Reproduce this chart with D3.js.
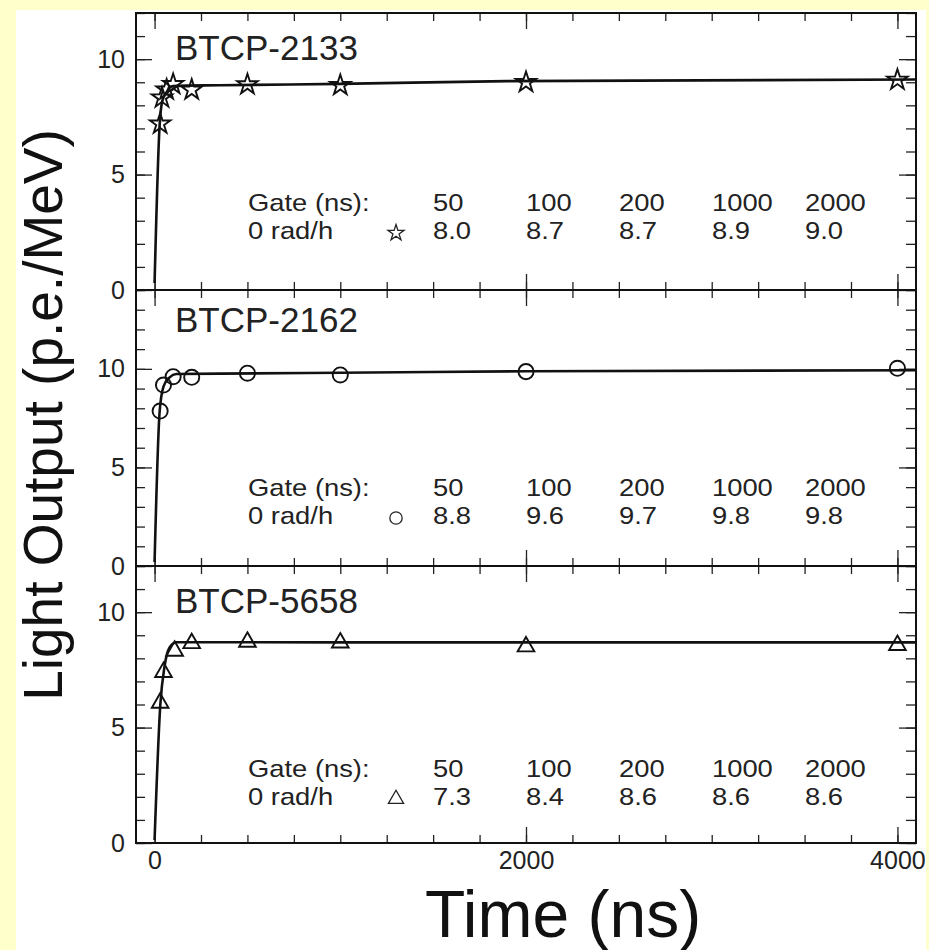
<!DOCTYPE html>
<html>
<head>
  <meta charset="utf-8">
  <title>Light Output vs Time</title>
  <script src="https://d3js.org/d3.v7.min.js"></script>
  <style>
    body {
      margin: 0;
      background: #ffffcc;
      font-family: "Liberation Sans", Arial, sans-serif;
    }
    .axis path.domain {
      display: none;
    }
    .axis line {
      stroke: #222;
      stroke-width: 1.3;
    }
    .axis text {
      font-family: "Liberation Sans", Arial, sans-serif;
      font-size: 25px;
      fill: #222;
    }
  </style>
</head>
<body>
  <svg width="929" height="950"></svg>
  <script>
    // crystal names and y ranges
    var crystals = ["BTCP-2133", "BTCP-2162", "BTCP-5658"];
    var yMax = [12, 14, 12];
    var markerTypes = ["star", "circle", "triangle"];

    // measured points (time in ns, p.e./MeV)
    var times2133 = [30, 40, 65, 100, 200, 500, 1000, 2000, 4000];
    var light2133 = [7.2, 8.33, 8.67, 8.91, 8.67, 8.9, 8.87, 9.0, 9.1];
    var times2162 = [30, 48, 100, 200, 500, 1000, 2000, 4000];
    var light2162 = [7.86, 9.18, 9.6, 9.57, 9.78, 9.69, 9.86, 10.03];
    var times5658 = [30, 48, 108, 200, 500, 1000, 2000, 4000];
    var light5658 = [6.07, 7.4, 8.32, 8.65, 8.71, 8.68, 8.51, 8.57];

    // fitted curves
    var fitT2133 = [0, 27, 41, 63, 99, 350, 1000, 1900, 4100];
    var fitV2133 = [0.3, 7.1, 8.17, 8.55, 8.84, 8.87, 8.93, 9.05, 9.12];
    var fitT2162 = [0, 27, 48, 81, 117, 350, 1000, 2000, 4100];
    var fitV2162 = [0.2, 7.8, 9.1, 9.57, 9.74, 9.76, 9.8, 9.88, 9.93];
    var fitT5658 = [0, 31, 54, 81, 117, 1000, 2000, 4100];
    var fitV5658 = [0.13, 6.0, 7.67, 8.47, 8.7, 8.69, 8.69, 8.69];

    // inset table
    var gates = ["50", "100", "200", "1000", "2000"];
    var table2133 = ["8.0", "8.7", "8.7", "8.9", "9.0"];
    var table2162 = ["8.8", "9.6", "9.7", "9.8", "9.8"];
    var table5658 = ["7.3", "8.4", "8.6", "8.6", "8.6"];

    var xMajor = [0, 2000, 4000];
    var yMajor = [0, 5, 10];

    var panels = [
      {name: crystals[0], ymax: yMax[0], marker: markerTypes[0], t: times2133, v: light2133, ft: fitT2133, fv: fitV2133, tab: table2133},
      {name: crystals[1], ymax: yMax[1], marker: markerTypes[1], t: times2162, v: light2162, ft: fitT2162, fv: fitV2162, tab: table2162},
      {name: crystals[2], ymax: yMax[2], marker: markerTypes[2], t: times5658, v: light5658, ft: fitT5658, fv: fitV5658, tab: table5658}
    ];

    // layout
    var left = 136, right = 916;
    var tops = [13, 290, 566], bottoms = [290, 566, 843];
    var labelDy = [47, 42, 47];
    var row1Dy = [198, 206, 211];
    var rowGap = 28;
    var tableX0 = 248, markX = 396, colX0 = 433, colStep = 93;

    var svg = d3.select("svg");

    svg.append("rect")
        .attr("x", 16).attr("y", 10)
        .attr("width", 910).attr("height", 940)
        .attr("fill", "#fff");

    var x = d3.scaleLinear().domain([-100, 4100]).range([left, right]);
    var xMinor = d3.range(0, 4001, 250);

    function symbolFor(type, size) {
      var s = type === "star" ? d3.symbolStar : type === "circle" ? d3.symbolCircle : d3.symbolTriangle;
      return d3.symbol().type(s).size(size)();
    }

    // slightly wide text, like the scanned original
    function wideText(g, tx, ty, str) {
      return g.append("text")
          .attr("transform", "translate(" + tx + "," + ty + ") scale(1.14,1)")
          .text(str);
    }

    panels.forEach(function(p, i) {
      var y = d3.scaleLinear().domain([0, p.ymax]).range([bottoms[i], tops[i]]);
      var yMinor = d3.range(0, p.ymax + 1, 1);

      // left axis
      svg.append("g").attr("class", "axis")
          .attr("transform", "translate(" + left + ",0)")
          .call(d3.axisLeft(y).tickValues(yMinor).tickSizeInner(-9).tickSizeOuter(0).tickFormat(""));
      svg.append("g").attr("class", "axis")
          .attr("transform", "translate(" + left + ",0)")
          .call(d3.axisLeft(y).tickValues(yMajor).tickSizeInner(-16).tickSizeOuter(0).tickPadding(11));

      // right axis
      svg.append("g").attr("class", "axis")
          .attr("transform", "translate(" + right + ",0)")
          .call(d3.axisRight(y).tickValues(yMinor).tickSizeInner(-10).tickSizeOuter(0).tickFormat(""));
      svg.append("g").attr("class", "axis")
          .attr("transform", "translate(" + right + ",0)")
          .call(d3.axisRight(y).tickValues(yMajor).tickSizeInner(-17).tickSizeOuter(0).tickFormat(""));

      // top and bottom x ticks
      svg.append("g").attr("class", "axis")
          .attr("transform", "translate(0," + tops[i] + ")")
          .call(d3.axisTop(x).tickValues(xMinor).tickSizeInner(-8).tickSizeOuter(0).tickFormat(""));
      svg.append("g").attr("class", "axis")
          .attr("transform", "translate(0," + tops[i] + ")")
          .call(d3.axisTop(x).tickValues(xMajor).tickSizeInner(-16).tickSizeOuter(0).tickFormat(""));
      svg.append("g").attr("class", "axis")
          .attr("transform", "translate(0," + bottoms[i] + ")")
          .call(d3.axisBottom(x).tickValues(xMinor).tickSizeInner(-8).tickSizeOuter(0).tickFormat(""));
      var xb = svg.append("g").attr("class", "axis")
          .attr("transform", "translate(0," + bottoms[i] + ")")
          .call(d3.axisBottom(x).tickValues(xMajor).tickSizeInner(-16).tickSizeOuter(0)
              .tickPadding(8).tickFormat(d3.format("d")));
      if (i < 2) xb.selectAll("text").remove();

      // frame
      svg.append("rect")
          .attr("x", left).attr("y", tops[i])
          .attr("width", right - left).attr("height", bottoms[i] - tops[i])
          .attr("fill", "none").attr("stroke", "#111").attr("stroke-width", 2);

      // fit curve
      var fit = p.ft.map(function(t, k) { return [t, p.fv[k]]; });
      svg.append("path")
          .datum(fit)
          .attr("fill", "none")
          .attr("stroke", "#111")
          .attr("stroke-width", 2.6)
          .attr("d", d3.line()
              .x(function(d) { return x(d[0]); })
              .y(function(d) { return y(d[1]); })
              .curve(d3.curveMonotoneX));

      // data markers
      var size = p.marker === "star" ? 130 : p.marker === "circle" ? 180 : 120;
      svg.selectAll(".m" + i)
          .data(p.t.map(function(t, k) { return [t, p.v[k]]; }))
        .enter().append("path")
          .attr("class", "m" + i)
          .attr("transform", function(d) { return "translate(" + x(d[0]) + "," + y(d[1]) + ")"; })
          .attr("d", symbolFor(p.marker, size))
          .attr("fill", "none")
          .attr("stroke", "#111")
          .attr("stroke-width", 1.9);

      // crystal label
      svg.append("text")
          .attr("x", 175).attr("y", tops[i] + labelDy[i])
          .attr("font-size", 35)
          .attr("fill", "#222")
          .text(p.name);

      // inset table
      var r1 = tops[i] + row1Dy[i], r2 = r1 + rowGap;
      var tg = svg.append("g").attr("font-size", 24).attr("fill", "#222");
      wideText(tg, tableX0, r1, "Gate (ns):");
      wideText(tg, tableX0, r2, "0 rad/h");
      gates.forEach(function(d, k) { wideText(tg, colX0 + k * colStep, r1, d); });
      p.tab.forEach(function(d, k) { wideText(tg, colX0 + k * colStep, r2, d); });
      svg.append("path")
          .attr("transform", "translate(" + markX + "," + (r2 - 6) + ")")
          .attr("d", symbolFor(p.marker, p.marker === "star" ? 80 : p.marker === "circle" ? 120 : 100))
          .attr("fill", "none")
          .attr("stroke", "#222")
          .attr("stroke-width", 1.3);
    });

    // axis titles
    svg.append("text")
        .attr("x", 563).attr("y", 937)
        .attr("text-anchor", "middle")
        .attr("font-size", 66)
        .attr("fill", "#111")
        .text("Time (ns)");

    svg.append("text")
        .attr("transform", "translate(62,415) rotate(-90)")
        .attr("text-anchor", "middle")
        .attr("font-size", 55)
        .attr("fill", "#111")
        .text("Light Output (p.e./MeV)");
  </script>
</body>
</html>
